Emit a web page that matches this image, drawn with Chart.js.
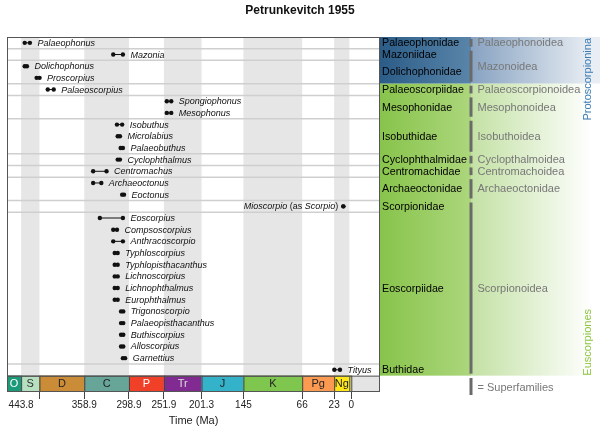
<!DOCTYPE html>
<html>
<head>
<meta charset="utf-8">
<script src="https://cdn.jsdelivr.net/npm/chart.js"></script>
<style>
  html, body { margin: 0; padding: 0; background: #fff; }
  #chart { display: block; }
</style>
</head>
<body>
<canvas id="chart" width="600" height="434"></canvas>
<script>
// Fossil ranges per genus, Ma (oldest, youngest)
const species = [
  'Palaeophonus', 'Mazonia', 'Dolichophonus', 'Proscorpius', 'Palaeoscorpius',
  'Spongiophonus', 'Mesophonus', 'Isobuthus', 'Microlabius', 'Palaeobuthus',
  'Cyclophthalmus', 'Centromachus', 'Archaeoctonus', 'Eoctonus', 'Mioscorpio (as Scorpio)',
  'Eoscorpius', 'Compsoscorpius', 'Anthracoscorpio', 'Typhloscorpius', 'Typhlopisthacanthus',
  'Lichnoscorpius', 'Lichnophthalmus', 'Europhthalmus', 'Trigonoscorpio', 'Palaeopisthacanthus',
  'Buthiscorpius', 'Alloscorpius', 'Garnettius', 'Tityus'
];
const oldestMa = [
  439, 320, 439, 423, 408,
  248, 248, 315, 314, 310,
  314, 347, 347, 308, 10.7,
  338, 320, 320, 318, 318,
  318, 318, 318, 309.5, 309.5,
  309.5, 309.5, 307, 22.8
];
const youngestMa = [
  432, 307, 436, 419, 400,
  242, 242, 308, 311, 307,
  311, 329, 336, 305.5, 10.7,
  307, 315, 307, 314, 314,
  314, 314, 314, 306.5, 306.5,
  306.5, 306.5, 304, 15.2
];
const labelOnLeft = ['Mioscorpio (as Scorpio)'];

const families = [
  'Palaeophonidae', 'Mazoniidae', 'Dolichophonidae', 'Palaeoscorpiidae', 'Mesophonidae',
  'Isobuthidae', 'Cyclophthalmidae', 'Centromachidae', 'Archaeoctonidae', 'Scorpionidae',
  'Eoscorpiidae', 'Buthidae'
];
const familySize = [1, 1, 2, 1, 2, 3, 1, 1, 2, 1, 13, 1];

const superfamilies = [
  'Palaeophonoidea', 'Mazonoidea', 'Palaeoscorpionoidea', 'Mesophonoidea', 'Isobuthoidea',
  'Cyclopthalmoidea', 'Centromachoidea', 'Archaeoctonidae', 'Scorpionoidea'
];
const superfamilySize = [1, 3, 1, 2, 3, 1, 1, 2, 15];

const suborders = ['Protoscorpionina', 'Euscorpiones'];
const suborderSize = [4, 25];

const periods = ['O', 'S', 'D', 'C', 'P', 'Tr', 'J', 'K', 'Pg', 'Ng', 'Q'];
const periodStart = [485.4, 443.8, 419.2, 358.9, 298.9, 251.9, 201.3, 145, 66, 23.03, 2.58];
const periodEnd = [443.8, 419.2, 358.9, 298.9, 251.9, 201.3, 145, 66, 23.03, 2.58, 0];
const periodColors = ['#1a9a78', '#b6e0c0', '#cb8c37', '#67a599', '#f04028', '#812b92',
                      '#34b2c9', '#7fc64e', '#fd9a52', '#ffe619', '#f9f97f'];
const periodText = ['#fff', '#333', '#222', '#222', '#fff', '#ddd', '#222', '#222', '#222', '#222', '#222'];

const tickValues = [443.8, 419.2, 358.9, 298.9, 251.9, 201.3, 145, 66, 23, 0];
const tickLabels = ['443.8', '', '358.9', '298.9', '251.9', '201.3', '145', '66', '23', '0'];

const FONT = "'Liberation Sans', Arial, Helvetica, sans-serif";
const N = species.length;
const periodRows = 1.4;   // height of the period strip, in rows

const backdrop = {
    id: 'backdrop',
    beforeDatasetsDraw(chart) {
        const { ctx, chartArea: a, scales: { x, y } } = chart;
        const top = y.getPixelForValue(-0.5);
        const bottom = y.getPixelForValue(N - 0.5);
        const barBottom = y.getPixelForValue(N - 0.5 + periodRows);
        ctx.save();

        // alternate period shading
        periods.forEach((p, i) => {
            if (i % 2 !== 1) return;
            const x0 = Math.max(x.getPixelForValue(periodStart[i]), a.left);
            const x1 = x.getPixelForValue(periodEnd[i]);
            ctx.fillStyle = '#e5e6e5';
            ctx.fillRect(x0, top, x1 - x0, bottom - top);
        });

        // family separators
        ctx.strokeStyle = '#cfcfcf';
        ctx.lineWidth = 1.5;
        let cum = 0;
        familySize.forEach(n => {
            cum += n;
            if (cum >= N) return;
            const yy = y.getPixelForValue(cum - 0.5);
            ctx.beginPath();
            ctx.moveTo(a.left, yy);
            ctx.lineTo(a.right, yy);
            ctx.stroke();
        });

        // period strip
        ctx.fillStyle = '#e4e4e4';
        ctx.fillRect(x.getPixelForValue(0), bottom, a.right - x.getPixelForValue(0), barBottom - bottom);
        ctx.lineWidth = 1;
        ctx.strokeStyle = '#444';
        ctx.font = '11px ' + FONT;
        ctx.textAlign = 'center';
        ctx.textBaseline = 'middle';
        periods.forEach((p, i) => {
            const x0 = Math.max(x.getPixelForValue(periodStart[i]), a.left);
            const x1 = x.getPixelForValue(periodEnd[i]);
            ctx.fillStyle = periodColors[i];
            ctx.fillRect(x0, bottom, x1 - x0, barBottom - bottom);
            ctx.strokeRect(x0 + 0.5, bottom + 0.5, x1 - x0, barBottom - bottom - 1);
            if (p !== 'Q') {
                ctx.fillStyle = periodText[i];
                ctx.fillText(p, (x0 + x1) / 2, (bottom + barBottom) / 2 + 0.5);
            }
        });

        // frame
        ctx.strokeStyle = '#555';
        ctx.strokeRect(a.left + 0.5, a.top + 0.5, a.right - a.left - 1, barBottom - a.top - 1);
        ctx.beginPath();
        ctx.moveTo(a.left, bottom + 0.5);
        ctx.lineTo(a.right, bottom + 0.5);
        ctx.stroke();
        ctx.restore();
    }
};

function drawLabel(ctx, text, xPos, yPos, alignRight) {
    // "(as" and ")" are set roman, the rest italic
    const parts = text.split(/(\(as |\))/).filter(s => s.length);
    const fontFor = s => (s === '(as ' || s === ')' ? '9px ' : 'italic 9px ') + FONT;
    let total = 0;
    parts.forEach(s => { ctx.font = fontFor(s); total += ctx.measureText(s).width; });
    let cx = alignRight ? xPos - total : xPos;
    parts.forEach(s => {
        ctx.font = fontFor(s);
        ctx.fillText(s, cx, yPos);
        cx += ctx.measureText(s).width;
    });
}

const labels = {
    id: 'labels',
    afterDatasetsDraw(chart) {
        const { ctx, scales: { x, y } } = chart;
        ctx.save();
        ctx.fillStyle = '#111';
        ctx.textAlign = 'left';
        ctx.textBaseline = 'middle';
        species.forEach((name, i) => {
            const yy = y.getPixelForValue(i) + 0.5;
            if (labelOnLeft.includes(name)) {
                drawLabel(ctx, name, x.getPixelForValue(oldestMa[i]) - 5, yy, true);
            } else {
                drawLabel(ctx, name, x.getPixelForValue(youngestMa[i]) + 7.5, yy, false);
            }
        });
        ctx.restore();
    }
};

const sidePanel = {
    id: 'sidePanel',
    afterDraw(chart) {
        const { ctx, chartArea: a, scales: { y } } = chart;
        const W = chart.width;
        const famX = a.right, supX = 471, endX = W;
        ctx.save();

        // title
        ctx.fillStyle = '#111';
        ctx.font = 'bold 12px ' + FONT;
        ctx.textAlign = 'center';
        ctx.textBaseline = 'middle';
        ctx.fillText('Petrunkevitch 1955', W / 2, 11);

        // suborder backgrounds
        const shades = [
            { fam: ['#2b5c87', '#5a85aa'], sup: ['#87a2c1', '#e9eef4'], text: '#3a7ab3' },
            { fam: ['#88c44c', '#acd67c'], sup: ['#c3e1a4', '#ffffff'], text: '#8cc63f' }
        ];
        let row = 0;
        suborders.forEach((name, k) => {
            const y0 = y.getPixelForValue(row - 0.5);
            const y1 = y.getPixelForValue(row + suborderSize[k] - 0.5);
            let g = ctx.createLinearGradient(famX, 0, supX, 0);
            g.addColorStop(0, shades[k].fam[0]);
            g.addColorStop(1, shades[k].fam[1]);
            ctx.fillStyle = g;
            ctx.fillRect(famX, y0, supX - famX, y1 - y0);
            g = ctx.createLinearGradient(supX, 0, endX - 8, 0);
            g.addColorStop(0, shades[k].sup[0]);
            g.addColorStop(1, shades[k].sup[1]);
            ctx.fillStyle = g;
            ctx.fillRect(supX, y0, endX - supX, y1 - y0);
            row += suborderSize[k];
        });

        // suborder names, vertical
        ctx.font = '11px ' + FONT;
        ctx.textBaseline = 'middle';
        ctx.save();
        ctx.translate(588, a.top + 1);
        ctx.rotate(-Math.PI / 2);
        ctx.fillStyle = shades[0].text;
        ctx.textAlign = 'right';
        ctx.fillText(suborders[0], 0, 0);
        ctx.restore();
        ctx.save();
        ctx.translate(588, y.getPixelForValue(N - 0.5));
        ctx.rotate(-Math.PI / 2);
        ctx.fillStyle = shades[1].text;
        ctx.textAlign = 'left';
        ctx.fillText(suborders[1], 0, 0);
        ctx.restore();

        // family names
        ctx.fillStyle = '#000';
        ctx.textAlign = 'left';
        ctx.font = '10.7px ' + FONT;
        row = 0;
        families.forEach((name, k) => {
            const mid = y.getPixelForValue(row + (familySize[k] - 1) / 2);
            ctx.fillText(name, famX + 2, mid + 0.5);
            row += familySize[k];
        });

        // superfamily bars and names
        ctx.font = '11px ' + FONT;
        row = 0;
        superfamilies.forEach((name, k) => {
            const y0 = y.getPixelForValue(row - 0.5) + 2;
            const y1 = y.getPixelForValue(row + superfamilySize[k] - 0.5) - 2;
            ctx.fillStyle = '#6a6a6a';
            ctx.fillRect(supX - 1.5, y0, 3, y1 - y0);
            ctx.fillStyle = '#777';
            ctx.fillText(name, supX + 6.5, (y0 + y1) / 2 + 0.5);
            row += superfamilySize[k];
        });

        // key
        ctx.fillStyle = '#6a6a6a';
        ctx.fillRect(supX - 1.5, 378, 3, 17);
        ctx.fillStyle = '#777';
        ctx.fillText('= Superfamilies', supX + 6.5, 387.5);
        ctx.restore();
    }
};

const datasets = species.map((name, i) => ({
    label: name,
    data: [{ x: oldestMa[i], y: i }, { x: youngestMa[i], y: i }],
    showLine: true,
    borderColor: '#111',
    borderWidth: 1,
    pointRadius: 2.2,
    pointBackgroundColor: '#111',
    pointBorderWidth: 0
}));

new Chart(document.getElementById('chart').getContext('2d'), {
    type: 'scatter',
    data: { datasets },
    options: {
        responsive: false,
        animation: false,
        devicePixelRatio: 1,
        layout: { padding: { left: 7, right: 220, top: 37, bottom: 0 } },
        plugins: {
            legend: { display: false },
            tooltip: { enabled: false },
            title: { display: false }
        },
        scales: {
            x: {
                type: 'linear',
                reverse: true,
                min: -38.6,
                max: 462.8,
                position: 'bottom',
                afterBuildTicks: scale => { scale.ticks = tickValues.map(v => ({ value: v })); },
                afterFit: scale => { scale.height = 42; },
                ticks: {
                    autoSkip: false,
                    maxRotation: 0,
                    padding: 0,
                    color: '#222',
                    font: { size: 10, family: FONT },
                    callback: (v, i) => tickLabels[i]
                },
                grid: {
                    drawOnChartArea: false,
                    drawTicks: true,
                    tickLength: 7,
                    color: c => (c.tick && c.tick.value === 443.8 ? 'rgba(0,0,0,0)' : '#444')
                },
                border: { display: false },
                title: {
                    display: true,
                    text: 'Time (Ma)',
                    color: '#222',
                    font: { size: 11, family: FONT },
                    padding: { top: 0, bottom: 6 }
                }
            },
            y: {
                type: 'linear',
                display: false,
                reverse: true,
                min: -0.5,
                max: N - 0.5 + periodRows
            }
        }
    },
    plugins: [backdrop, labels, sidePanel]
});
</script>
</body>
</html>
